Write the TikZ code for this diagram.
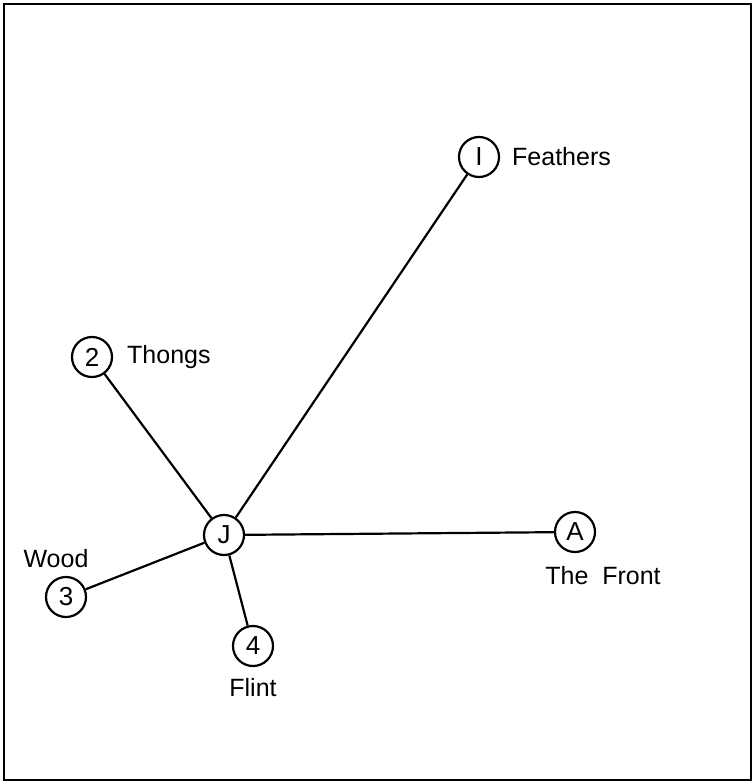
\documentclass[tikz,border=0pt]{standalone}
\usepackage{fontspec}
\setmainfont{Liberation Sans}
\begin{document}
\begin{tikzpicture}[x=1pt,y=-1pt,
  vtx/.style={circle,draw,line width=2.2pt,minimum size=40pt,inner sep=0pt,font=\fontsize{26}{28}\selectfont},
  lbl/.style={font=\fontsize{25}{28}\selectfont,inner sep=0pt},
  edge/.style={line width=2.2pt}]
\useasboundingbox (0,0) rectangle (754,784);
\draw[line width=2.4pt] (4,4) rectangle (751,780);
\node[vtx] (n1) at (479,157) {I};
\node[vtx] (n2) at (92,357) {2};
\node[vtx] (nJ) at (224,535) {J};
\node[vtx] (n3) at (66,597) {3};
\node[vtx] (n4) at (253,646) {4};
\node[vtx] (nA) at (575,532) {A};
\node[lbl,anchor=west] (l1) at (512,157) {Feathers};
\node[lbl,anchor=west] (l2) at (127,357) {Thongs};
\node[lbl] (l3) at (56,559) {Wood};
\node[lbl] (l4) at (253,688) {Flint};
\node[lbl] (lA) at (603,576) {The\ \ Front};
\draw[edge] (nJ) -- (n1);
\draw[edge] (nJ) -- (n2);
\draw[edge] (nJ) -- (n3);
\draw[edge] (nJ) -- (n4);
\draw[edge] (nJ) -- (nA);
\end{tikzpicture}
\end{document}
